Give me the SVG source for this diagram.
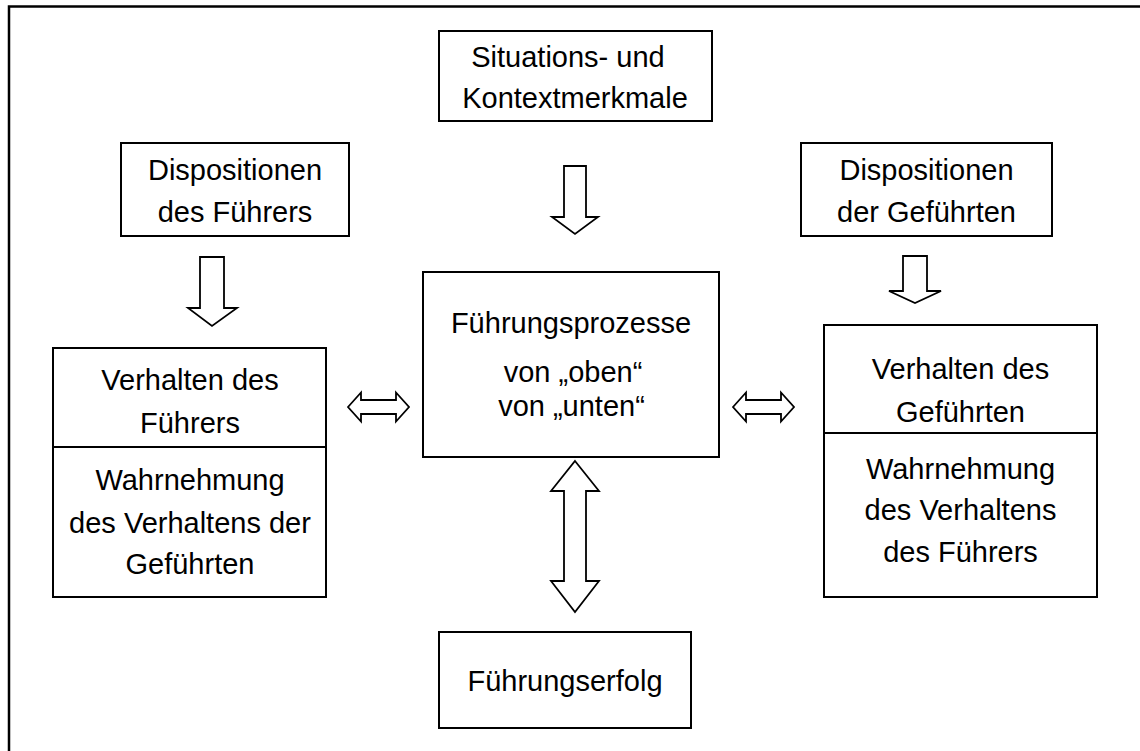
<svg xmlns="http://www.w3.org/2000/svg" width="1140" height="751" viewBox="0 0 1140 751">
<style>
.box{fill:#fff;stroke:#000;stroke-width:2}
.frame{fill:none;stroke:#000;stroke-width:2.5}
.arr{fill:#fff;stroke:#000;stroke-width:1.8;stroke-linejoin:miter}
text{font-family:"Liberation Sans",Arial,sans-serif;font-size:29px;fill:#000;text-anchor:middle}
</style>
<rect width="1140" height="751" fill="#fff"/>
<rect class="frame" x="9" y="6.5" width="1160" height="780"/>

<g id="situation">
<rect class="box" x="439" y="31" width="273" height="90"/>
<text x="568" y="66.5">Situations- und</text>
<text x="575" y="108">Kontextmerkmale</text>
</g>

<g id="disp-fuehrer">
<rect class="box" x="121" y="143" width="228" height="93"/>
<text x="235" y="180">Dispositionen</text>
<text x="235" y="221.5">des Führers</text>
</g>

<g id="disp-gefuehrte">
<rect class="box" x="801" y="143" width="251" height="93"/>
<text x="926.5" y="180">Dispositionen</text>
<text x="926.5" y="221.5">der Geführten</text>
</g>

<g id="verhalten-fuehrer">
<rect class="box" x="53" y="348" width="273" height="249"/>
<line x1="53" y1="447" x2="326" y2="447" stroke="#000" stroke-width="2"/>
<text x="190" y="390">Verhalten des</text>
<text x="190" y="432.5">Führers</text>
<text x="190" y="490">Wahrnehmung</text>
<text x="190" y="532.5">des Verhaltens der</text>
<text x="190" y="573.5">Geführten</text>
</g>

<g id="prozesse">
<rect class="box" x="423" y="272" width="296" height="185"/>
<text x="571" y="332.5">Führungsprozesse</text>
<text x="573" y="381.5">von „oben“</text>
<text x="571.5" y="416">von „unten“</text>
</g>

<g id="verhalten-gefuehrte">
<rect class="box" x="824" y="325" width="273" height="272"/>
<line x1="824" y1="433" x2="1097" y2="433" stroke="#000" stroke-width="2"/>
<text x="960.5" y="378.5">Verhalten des</text>
<text x="960.5" y="421.5">Geführten</text>
<text x="960.5" y="478.5">Wahrnehmung</text>
<text x="960.5" y="520">des Verhaltens</text>
<text x="960.5" y="561.5">des Führers</text>
</g>

<g id="erfolg">
<rect class="box" x="439" y="632" width="252" height="96"/>
<text x="565" y="691">Führungserfolg</text>
</g>

<g id="connectors">
<polygon class="arr" points="200,257 224,257 224,308 237,308 212,326 188,308 200,308"/>
<polygon class="arr" points="564,166 586,166 586,217 598,217 575,234 552,217 564,217"/>
<polygon class="arr" points="903,256 927,256 927,291 941,291 915,303 889,291 903,291"/>
<polygon class="arr" points="348,407 361,392.5 361,400 396,400 396,392.5 409,407 396,421.5 396,414 361,414 361,421.5"/>
<polygon class="arr" points="733,407 746,392.5 746,400 781,400 781,392.5 794,407 781,421.5 781,414 746,414 746,421.5"/>
<polygon class="arr" points="575,461 599,491 586,491 586,581 599,581 575,612 551,581 564,581 564,491 551,491"/>
</g>
</svg>
